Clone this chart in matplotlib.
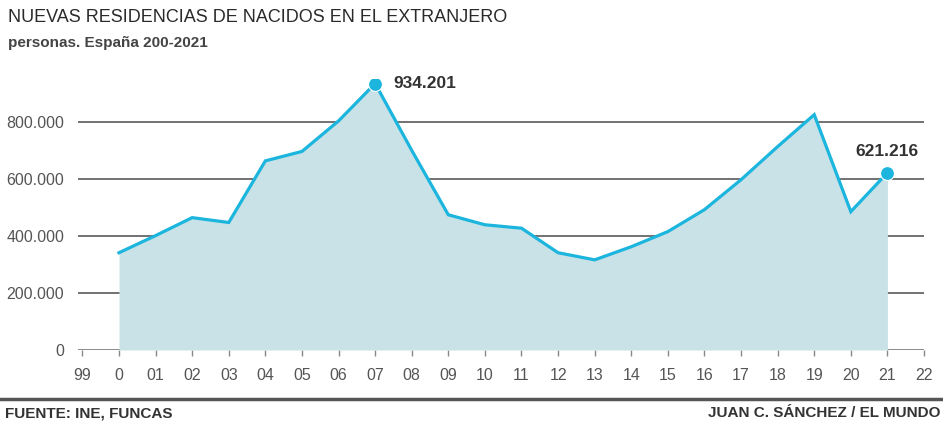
import matplotlib
matplotlib.use("Agg")
import matplotlib.pyplot as plt
from matplotlib.lines import Line2D

years = list(range(0, 22))
values = [341000, 401000, 464000, 447000, 663000, 696000, 803000, 934201,
          700000, 474000, 439000, 427000, 341000, 316000, 362000, 415000,
          492000, 597000, 713000, 825000, 485000, 621216]
tick_pos = list(range(-1, 23))
tick_labels = ["99", "0"] + [f"{i:02d}" for i in range(1, 23)]
y_ticks = [0, 200000, 400000, 600000, 800000]
y_labels = ["0", "200.000", "400.000", "600.000", "800.000"]
highlight_idx = [7, 21]
highlight_labels = ["934.201", "621.216"]

COND = ["Liberation Sans", "DejaVu Sans"]
LINE = "#1bb5de"
FILL = "#c8e2e7"
GRID = "#5a5a5a"
TXT = "#333333"

W, H = 943, 421
fig = plt.figure(figsize=(W / 100, H / 100), dpi=100)

left_px, right_px = 78, 924
bottom_px, top_px = 350, 79
ax = fig.add_axes([left_px / W, (H - bottom_px) / H,
                   (right_px - left_px) / W, (bottom_px - top_px) / H])
ax.set_xlim(-1.12, 22.0)
ax.set_ylim(0, 950000)

for yt in y_ticks:
    ax.axhline(yt, color=GRID if yt else "#777777", lw=1.2, zorder=1)

ax.fill_between(years, values, 0, color=FILL, lw=0, zorder=2)
ax.plot(years, values, color=LINE, lw=2.3, zorder=3, solid_joinstyle="miter")
for i in highlight_idx:
    ax.plot(years[i], values[i], "o", color=LINE, ms=10, zorder=4,
            markeredgecolor="white", markeredgewidth=0.8)

ax.text(years[7] + 0.5, values[7], highlight_labels[0], fontsize=12.5,
        fontweight="bold", family=COND, color=TXT, va="center", ha="left")
ax.text(years[21], values[21] + 50000, highlight_labels[1], fontsize=12.5,
        fontweight="bold", family=COND, color=TXT, va="bottom", ha="center")

for s in ax.spines.values():
    s.set_visible(False)
ax.set_xticks(tick_pos)
ax.set_xticklabels(tick_labels, family=COND, fontsize=11.5, color="#555555")
ax.set_yticks(y_ticks)
ax.set_yticklabels(y_labels, family=COND, fontsize=11.5, color="#555555")
ax.tick_params(axis="x", length=4, width=1, color="#888888", pad=9)
ax.tick_params(axis="y", length=0, pad=10)

fig.text(8 / W, 1 - 18 / H, "NUEVAS RESIDENCIAS DE NACIDOS EN EL EXTRANJERO",
         fontsize=13, family=COND, color="#2a2a2a", va="center", ha="left")
fig.text(8 / W, 1 - 43 / H, "personas. España 200-2021",
         fontsize=11, fontweight="bold", family=COND, color="#444444",
         va="center", ha="left")

fig.add_artist(Line2D([0, 1], [1 - 399 / H] * 2, color="#555555", lw=2.5,
                      transform=fig.transFigure))
fig.text(5 / W, 1 - 413 / H, "FUENTE: INE, FUNCAS", fontsize=11,
         fontweight="bold", family=COND, color=TXT, va="center", ha="left")
fig.text(940 / W, 1 - 413 / H, "JUAN C. SÁNCHEZ / EL MUNDO", fontsize=11,
         fontweight="bold", family=COND, color=TXT, va="center", ha="right")

fig.savefig("out.png", dpi=100)
